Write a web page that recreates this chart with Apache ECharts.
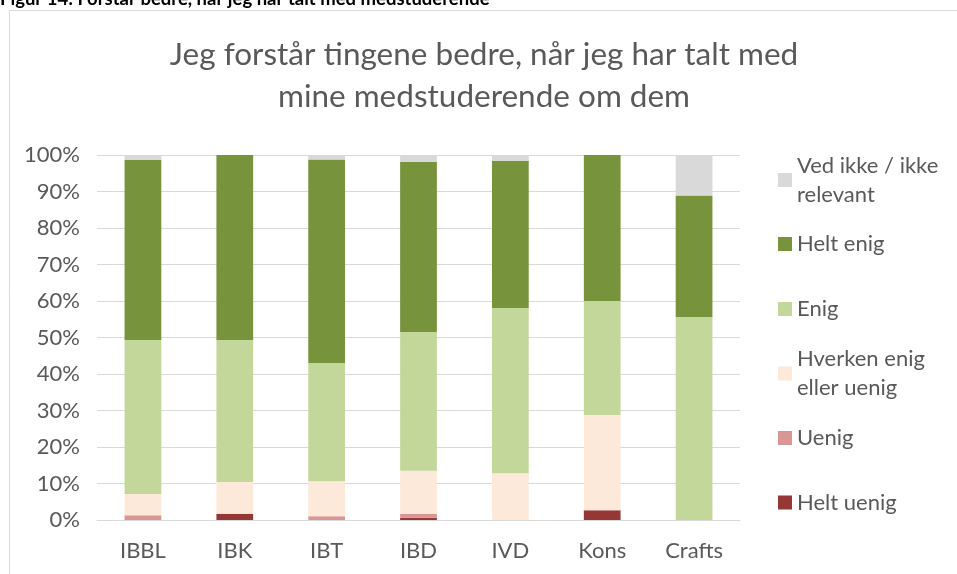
<!DOCTYPE html>
<html>
<head>
<meta charset="utf-8">
<script src="https://cdn.jsdelivr.net/npm/echarts@6/dist/echarts.min.js"></script>
<style>
  html, body { margin: 0; padding: 0; background: #fff; }
  #chart { width: 957px; height: 574px; }
</style>
</head>
<body>
<div id="chart"></div>
<script>
// kategorier og andele i procent
const categories = ['IBBL', 'IBK', 'IBT', 'IBD', 'IVD', 'Kons', 'Crafts'];
const heltUenig = [0, 1.7, 0, 0.6, 0, 2.7, 0];
const uenig = [1.3, 0, 1.0, 1.1, 0, 0, 0];
const hverken = [5.8, 8.7, 9.6, 11.8, 12.8, 26.1, 0];
const enig = [42.2, 38.9, 32.4, 38.0, 45.3, 31.2, 55.6];
const heltEnig = [49.3, 50.7, 55.8, 46.6, 40.3, 40.0, 33.3];
const vedIkke = [1.4, 0, 1.2, 1.9, 1.6, 0, 11.1];

const FONT = 'Lato, "Open Sans", sans-serif';
const TXT = '#595959';
const FS = 22;

const chart = echarts.init(document.getElementById('chart'));

const mkSeries = (name, data, color) => ({
  name: name,
  type: 'bar',
  stack: 'total',
  data: data,
  barCategoryGap: '60%',
  itemStyle: { color: color },
  emphasis: { disabled: true }
});

// én legend pr. post, så afstanden kan styres som i Excel
const mkLegend = (name, centerY, twoLines) => ({
  data: [{
    name: name,
    textStyle: twoLines ? { padding: [29, 0, 0, 0] } : {}
  }],
  orient: 'vertical',
  left: 778,
  top: twoLines ? centerY - 43.5 : centerY - 14.5,
  padding: 0,
  itemWidth: 14,
  itemHeight: 14,
  icon: 'rect',
  textStyle: { fontFamily: FONT, fontSize: FS, color: TXT, lineHeight: 29 },
  selectedMode: false
});

const option = {
  animation: false,
  grid: { left: 97, right: 217, top: 155, bottom: 54 },
  legend: [
    mkLegend('Ved ikke / ikke\nrelevant', 180, true),
    mkLegend('Helt enig', 244, false),
    mkLegend('Enig', 309, false),
    mkLegend('Hverken enig\neller uenig', 373.5, true),
    mkLegend('Uenig', 438, false),
    mkLegend('Helt uenig', 502.5, false)
  ],
  xAxis: {
    type: 'category',
    data: categories,
    axisLine: { lineStyle: { color: '#d9d9d9', width: 1 } },
    axisTick: { show: false },
    axisLabel: { fontFamily: FONT, fontSize: FS, color: TXT, margin: 20 }
  },
  yAxis: {
    type: 'value',
    min: 0,
    max: 100,
    interval: 10,
    axisLine: { show: false },
    axisTick: { show: false },
    splitLine: { lineStyle: { color: '#d9d9d9', width: 1 } },
    axisLabel: { formatter: '{value}%', fontFamily: FONT, fontSize: FS, color: TXT, margin: 17 }
  },
  series: [
    mkSeries('Helt uenig', heltUenig, '#953735'),
    mkSeries('Uenig', uenig, '#d99694'),
    mkSeries('Hverken enig\neller uenig', hverken, '#fde9d9'),
    mkSeries('Enig', enig, '#c4d79b'),
    mkSeries('Helt enig', heltEnig, '#77933c'),
    mkSeries('Ved ikke / ikke\nrelevant', vedIkke, '#d9d9d9')
  ],
  graphic: [
    {
      type: 'rect',
      shape: { x: 9.5, y: 10.5, width: 1000, height: 600 },
      style: { fill: 'none', stroke: '#d9d9d9', lineWidth: 1 },
      z: -10
    },
    {
      type: 'text',
      left: 0,
      top: -10,
      style: {
        text: 'Figur 14: Forstår bedre, når jeg har talt med medstuderende',
        fontFamily: FONT,
        fontSize: 18.5,
        fontWeight: 'bold',
        fill: '#000'
      }
    },
    // diagramtitel, centreret over x = 484 som i Excel
    {
      type: 'text',
      x: 484,
      y: 34,
      style: {
        text: 'Jeg forstår tingene bedre, når jeg har talt med\nmine medstuderende om dem',
        align: 'center',
        verticalAlign: 'top',
        fontFamily: FONT,
        fontSize: 31.5,
        lineHeight: 42,
        fill: TXT
      }
    }
  ]
};

chart.setOption(option);
</script>
</body>
</html>
